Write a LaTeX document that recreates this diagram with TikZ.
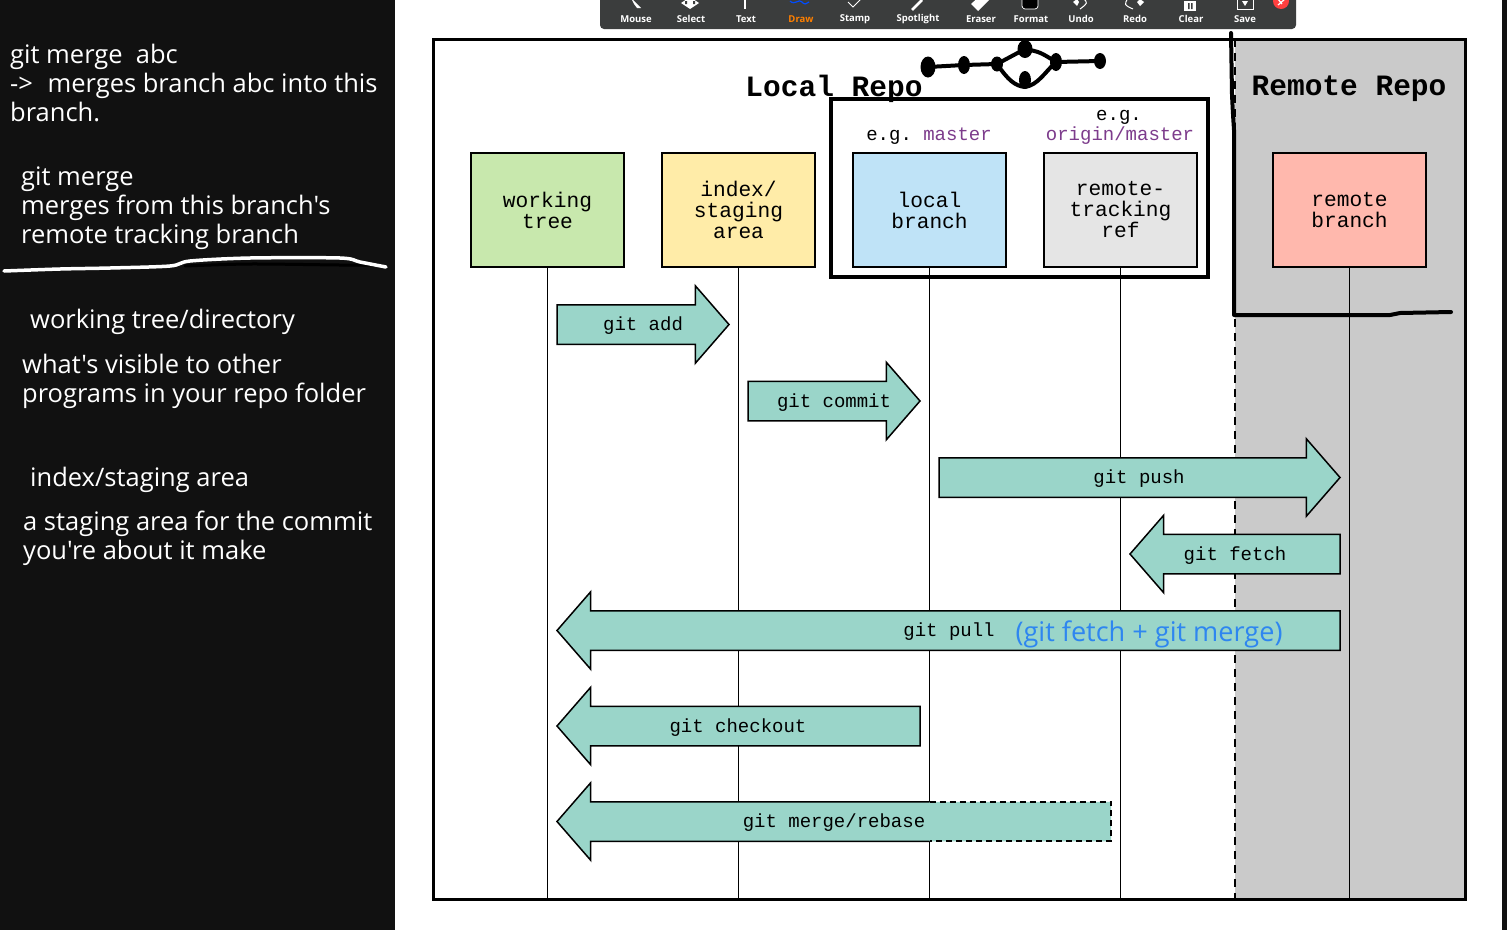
\documentclass[tikz,border=0pt]{standalone}
\usepackage{fontspec}
\setmonofont{Liberation Mono}
\newfontfamily\notefont{Open Sans}
\usepackage{xcolor}
\usetikzlibrary{shapes,arrows,positioning,fit,calc}
\definecolor{paneldark}{HTML}{111111}
\definecolor{barcol}{HTML}{3B3D3D}
\definecolor{gitteal}{HTML}{9AD5C9}
\definecolor{treecol}{HTML}{C8E8AD}
\definecolor{indexcol}{HTML}{FFECA8}
\definecolor{localcol}{HTML}{BFE3F7}
\definecolor{trackcol}{HTML}{E5E5E5}
\definecolor{remotecol}{HTML}{FFB8AD}
\definecolor{remotebg}{HTML}{CACACA}
\definecolor{refpurple}{HTML}{7D3C8C}
\definecolor{pullblue}{HTML}{2E86F0}
\begin{document}
\begin{tikzpicture}[
  x=1pt, y=-1pt,
  panel/.style={anchor=west, align=left, inner sep=0pt, text=white,
                font=\notefont\fontsize{25.5}{29}\selectfont},
  repo/.style={font=\fontsize{29.5}{30}\ttfamily\bfseries, inner sep=0pt},
  ent/.style={rectangle, draw, line width=1.5pt, minimum width=153pt,
              minimum height=114pt, align=center, inner sep=0pt, outer sep=0pt,
              font=\fontsize{21.2}{21}\ttfamily},
  eg/.style={font=\fontsize{19}{19}\ttfamily, inner sep=0pt},
  life/.style={line width=1.6pt},
  gitarr/.style={single arrow, fill=gitteal, draw, line width=1.5pt, inner sep=0pt,
                 outer sep=0pt, text height=38pt, text depth=0pt, minimum width=76.5pt,
                 single arrow head extend=19pt, single arrow tip angle=98,
                 anchor=tail},
  gitleft/.style={gitarr, shape border rotate=180},
  cmd/.style={font=\fontsize{19}{19}\ttfamily, inner sep=0pt},
  tool/.style={font=\notefont\fontsize{9.5}{10}\selectfont\bfseries, inner sep=0pt, text=white},
  ink/.style={line width=4pt, line cap=round, line join=round, black},
  blob/.style={fill=black, ellipse, minimum width=12pt, minimum height=18pt, inner sep=0pt}
]
\useasboundingbox (0,0) rectangle (1507,930);
\fill[white] (0,0) rectangle (1507,930);
\fill[paneldark] (0,0) rectangle (395,930);
\fill[paneldark] (1502,0) rectangle (1507,930);

% side notes
\node[panel] (note1) at (10,83) {git merge\ \ abc\\->\kern8pt{} merges branch abc into this\\branch.};
\node[panel] (note2) at (21,208) {git merge\\merges from this branch's\\remote tracking branch};
\node[panel] (note3) at (30,322) {working tree/directory};
\node[panel] (note4) at (22,381) {what's visible to other\\programs in your repo folder};
\node[panel] (note5) at (30,480) {index/staging area};
\node[panel] (note6) at (23,538) {a staging area for the commit\\you're about it make};
\draw[line width=3pt, black, line cap=round] plot[smooth] coordinates {(185,266) (250,264) (340,265) (378,265)};
\draw[line width=3.5pt, white, line cap=round] plot[smooth] coordinates {(4,271) (60,269) (110,268) (170,266) (190,261) (250,258) (340,258) (360,262) (386,267)};

% frame and remote side
\node[rectangle, fill=remotebg, minimum width=230pt, minimum height=860pt, inner sep=0pt, outer sep=0pt] (remoteside) at (1350,469) {};
\node[rectangle, draw, line width=3pt, minimum width=1032pt, minimum height=860pt, inner sep=0pt, outer sep=0pt] (frame) at (949,469) {};
\draw[line width=1.8pt, dash pattern=on 8pt off 6pt] (remoteside.north west) -- (remoteside.south west);

\node[repo] (localtitle) at (834,89) {Local Repo};
\node[repo] (remotetitle) at (1349,89) {Remote Repo};

\node[rectangle, draw, line width=3.5pt, minimum width=377pt, minimum height=178pt, inner sep=0pt, outer sep=0pt] (localbox) at (1019.5,188) {};
\node[eg] (egmaster) at (929,136) {e.g. \textcolor{refpurple}{master}};
\node[eg] (egword) at (1119,117) {e.g.};
\node[eg, text=refpurple] (egorigin) at (1120,136) {origin/master};

\node[ent, fill=treecol] (tree) at (547.5,210) {working\\tree};
\node[ent, fill=indexcol] (index) at (738.5,210) {index/\\staging\\area};
\node[ent, fill=localcol] (local) at (929.5,210) {local\\branch};
\node[ent, fill=trackcol] (track) at (1120.5,210) {remote-\\tracking\\ref};
\node[ent, fill=remotecol] (remote) at (1349.5,210) {remote\\branch};

\foreach \n in {tree,index,local,track,remote}
  \draw[life] (\n.south) -- (\n.south |- frame.south);

\node[gitarr, minimum height=172pt] (add) at (557,324.5) {};
\node[gitarr, minimum height=172pt] (commit) at (748,401) {};
\node[gitarr, minimum height=401pt] (push) at (939,477.5) {};
\node[gitleft, minimum height=210pt] (fetch) at (1340,554) {};
\node[gitleft, minimum height=783pt] (pull) at (1340,630.5) {};
\node[gitleft, minimum height=363pt] (checkout) at (920,726) {};
\node[gitleft, minimum height=554pt, draw=none] (merge) at (1111,821.5) {};
\coordinate (mergetop) at (merge.before tail -| local.south);
\coordinate (mergebot) at (merge.after tail -| local.south);
\draw[line width=1.5pt] (mergetop) -- (merge.after head) -- (merge.after tip) -- (merge.tip)
  -- (merge.before tip) -- (merge.before head) -- (mergebot);
\draw[line width=1.7pt, dash pattern=on 6pt off 4pt] (mergetop) -- (merge.before tail) -- (merge.after tail) -- (mergebot);

\node[cmd] (addlab) at (643,326) {git add};
\node[cmd] (commitlab) at (834,403) {git commit};
\node[cmd] (pushlab) at (1139,479) {git push};
\node[cmd] (fetchlab) at (1235,556) {git fetch};
\node[cmd] (pulllab) at (949,632) {git pull};
\node[inner sep=0pt, text=pullblue, font=\notefont\fontsize{27.1}{28}\selectfont] (pullnote) at (1149,634) {(git fetch + git merge)};
\node[cmd] (checkoutlab) at (738,728) {git checkout};
\node[cmd] (mergelab) at (834,823) {git merge/rebase};

% hand drawn marks
\draw[ink] (1231,33) -- (1232,95) .. controls (1233,115) .. (1234,130) -- (1234,315)
  -- (1390,315) -- (1400,313) -- (1451,312);
\draw[ink] (928,67) -- (964,65) -- (997,64) -- (1025,49) .. controls (1040,52) .. (1056,62) -- (1100,61);
\draw[ink] (997,64) .. controls (1008,80) and (1015,86) .. (1025,87) .. controls (1038,85) and (1045,72) .. (1056,62);
\node[blob, minimum width=15pt, minimum height=21pt] (dot1) at (928,67) {};
\node[blob] (dot2) at (964,65) {};
\node[blob, minimum height=15pt] (dot3) at (997,64) {};
\node[blob, minimum width=15pt, minimum height=18pt] (dot4) at (1025,49) {};
\node[blob] (dot5) at (1025,80) {};
\node[blob] (dot6) at (1056,62) {};
\node[blob, minimum height=16pt] (dot7) at (1100,61) {};

% toolbar
\fill[barcol, rounded corners=4pt] (600,-8) rectangle (1296,29);
\foreach \x/\lab in {636/Mouse,691/Select,746/Text,855/Stamp,918/Spotlight,981/Eraser,1031/Format,1081/Undo,1135/Redo,1191/Clear,1245/Save}
  \node[tool] (tool\lab) at (\x,19) {\lab};
\node[tool, text=orange] (toolDraw) at (801,19) {Draw};
\fill[white] (631,-2) -- (641,8) -- (637,8) -- (634,4) -- cycle;
\fill[white] (681,3) -- (690,-3) -- (699,3) -- (690,9) -- cycle;
\fill[barcol] (685,1) rectangle (687,4) (693,1) rectangle (695,4);
\fill[white] (744,-2) rectangle (746,9);
\draw[blue!70!cyan, line width=1.2pt] (790,1) .. controls (795,6) and (799,-2) .. (802,2) .. controls (804,5) and (807,4) .. (809,2);
\draw[white, line width=1pt] (848,2) -- (853,7) -- (861,-1);
\draw[white, line width=2.5pt] (912,10) -- (922,0);
\fill[white] (971,4) -- (982,-6) -- (989,0) -- (978,11) -- cycle;
\fill[black] (1022,-4) rectangle (1038,9);
\draw[white, line width=.8pt, rounded corners=3pt] (1022,-4) -- (1022,9) -- (1038,9) -- (1038,-4);
\draw[white, line width=1pt] (1083,-2) .. controls (1088,3) .. (1080,9);
\fill[white] (1073,2) -- (1077,-1) -- (1079,2) -- (1077,6) -- cycle;
\draw[white, line width=1pt] (1128,-2) .. controls (1124,5) .. (1133,9);
\fill[white] (1137,2) -- (1140,-1) -- (1144,2) -- (1140,6) -- cycle;
\fill[white] (1184,1) rectangle (1196,11);
\fill[barcol] (1188,3) rectangle (1189.5,9) (1191,3) rectangle (1192.5,9);
\draw[white, line width=1pt] (1237,-3) -- (1237,9) -- (1253,9) -- (1253,-3);
\fill[white] (1242,1) -- (1248,1) -- (1245,6) -- cycle;
\fill[red!75!white] (1281,1) circle (8pt);
\draw[white, line width=1.2pt] (1278,-1) -- (1282,4) (1285,-1) -- (1278,5);
\end{tikzpicture}
\end{document}
